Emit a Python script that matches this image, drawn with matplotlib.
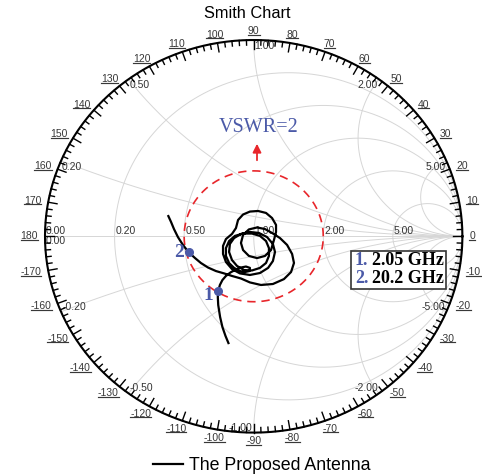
import numpy as np
import matplotlib
matplotlib.use('Agg')
import matplotlib.pyplot as plt
from matplotlib.lines import Line2D
from matplotlib.patches import Rectangle

plt.rcParams['font.family'] = ['Liberation Sans', 'DejaVu Sans']

gamma_re = [-0.121, -0.135, -0.150, -0.161, -0.170, -0.172, -0.170, -0.162, -0.150, -0.133, -0.111, -0.085,
            -0.061, -0.037, -0.018, -0.020, -0.042, -0.066,
            -0.094, -0.118, -0.133, -0.133, -0.118, -0.090, -0.051, -0.008, 0.030, 0.059, 0.073, 0.073,
            0.059, 0.030, -0.008, -0.046, -0.080, -0.104,
            -0.118, -0.114, -0.094, -0.061, -0.018, 0.025, 0.064, 0.092, 0.102, 0.092, 0.069, 0.030,
            -0.018, -0.066, -0.104, -0.133, -0.147, -0.147, -0.133, -0.104,
            -0.085, -0.075, -0.051, -0.018, 0.021, 0.059, 0.088, 0.107, 0.107,
            0.097, 0.083, 0.054, 0.016, -0.023, -0.051, -0.061, -0.051, -0.023, 0.016, 0.054, 0.088,
            0.126, 0.160, 0.184, 0.193, 0.179, 0.145, 0.092, 0.035, -0.018, -0.061, -0.104, -0.142,
            -0.181, -0.219, -0.253, -0.281, -0.311, -0.339, -0.363, -0.382, -0.396, -0.409]
gamma_im = [-0.544, -0.508, -0.462, -0.411, -0.350, -0.309, -0.279, -0.248, -0.223, -0.202, -0.184, -0.169,
            -0.159, -0.154, -0.161, -0.177, -0.182, -0.177,
            -0.161, -0.136, -0.100, -0.060, -0.024, 0.002, 0.014, 0.014, 0.002, -0.024, -0.060, -0.100,
            -0.136, -0.161, -0.174, -0.172, -0.151, -0.121,
            -0.080, -0.039, -0.009, 0.012, 0.022, 0.017, -0.004, -0.039, -0.080, -0.126, -0.161, -0.187,
            -0.197, -0.189, -0.167, -0.131, -0.090, -0.049, -0.014, 0.012,
            0.042, 0.083, 0.111, 0.126, 0.129, 0.119, 0.093, 0.058, 0.022,
            -0.019, -0.070, -0.100, -0.111, -0.100, -0.070, -0.034, 0.007, 0.035, 0.045, 0.037, 0.017,
            -0.009, -0.044, -0.090, -0.136, -0.182, -0.218, -0.243, -0.248, -0.235, -0.215, -0.202, -0.189,
            -0.177, -0.159, -0.136, -0.111, -0.082, -0.044, -0.004, 0.037, 0.073, 0.103]

marker_re = [-0.170, -0.311]
marker_im = [-0.279, -0.082]
marker_names = ['1', '2']
marker_freqs = ['2.05 GHz', '20.2 GHz']

r_values = [0.2, 0.5, 1.0, 2.0, 5.0]
x_values = [0.2, 0.5, 1.0, 2.0, 5.0]
angle_labels = list(range(-170, 190, 10))
vswr = 2.0

blue = '#4b5aa8'
red = '#e8262b'
grid = '#d6d6d6'
txt = '#333333'

W, H = 482, 476
fig = plt.figure(figsize=(W / 100, H / 100), dpi=100)
ax = fig.add_axes([0, 0, 1, 1])
cx, cy, rx, ry = 253.7, 236.3, 208.7, 196.3
ax.set_xlim(-cx / rx, (W - cx) / rx)
ax.set_ylim(-(H - cy) / ry, cy / ry)
ax.axis('off')


def px(x, y):
    # picture pixel -> chart coordinates (for annotation placement)
    return (x - cx) / rx, (cy - y) / ry


# grid: resistance circles and reactance arcs
phi = np.linspace(0, 2 * np.pi, 500)
for r in r_values:
    c, rad = r / (1 + r), 1 / (1 + r)
    ax.plot(c + rad * np.cos(phi), rad * np.sin(phi), color=grid, lw=0.7, zorder=1)
rr = np.tan(np.linspace(0, np.pi / 2, 500, endpoint=False))
for x in x_values:
    for s in (1, -1):
        g = (rr + 1j * s * x - 1) / (rr + 1j * s * x + 1)
        ax.plot(np.append(g.real, 1), np.append(g.imag, 0), color=grid, lw=0.7, zorder=1)
ax.plot([-1, 1], [0, 0], color=grid, lw=0.7, zorder=1)

# resistance labels on the real axis
for r in r_values:
    ax.annotate(f'{r:.2f}', ((r - 1) / (r + 1), 0), xytext=(1, 0), textcoords='offset pixels',
                ha='left', va='bottom', fontsize=7.5, color=txt, zorder=2)
ax.annotate('0.00', (-1, 0), xytext=(1, 0), textcoords='offset pixels', ha='left', va='bottom',
            fontsize=7.5, color=txt, zorder=2)
ax.annotate('0.00', (-1, 0), xytext=(1, 0), textcoords='offset pixels', ha='left', va='top',
            fontsize=7.5, color=txt, zorder=2)

# reactance labels at the rim
for x in x_values:
    for s in (1, -1):
        end = (x * x - 1 + 2j * s * x) / (x * x + 1)
        if s > 0:
            ha = 'left' if end.real <= 0.01 else 'right'
        else:
            ha = 'left' if end.real < -0.01 else 'right'
        dx = 1 if ha == 'left' else -1
        lab = f'{s * x:.2f}'
        ax.annotate(lab, (end.real, end.imag), xytext=(dx, -1 if s > 0 else 0), textcoords='offset pixels',
                    ha=ha, va='top' if s > 0 else 'bottom', fontsize=7.5, color=txt, zorder=2)

# outer rim with angle ticks
ax.plot(np.cos(phi), np.sin(phi), color='black', lw=1.5, zorder=3)
for a in range(-178, 181, 2):
    th = np.deg2rad(a)
    L = 9 if a % 10 == 0 else 5
    ax.plot([np.cos(th), np.cos(th) * (1 - L / rx)], [np.sin(th), np.sin(th) * (1 - L / ry)],
            color='black', lw=1.0, zorder=3)

angle_texts = []
for a in angle_labels:
    th = np.deg2rad(a)
    s = str(a)
    w = 5.8 * len(s.replace('-', '')) + (3.5 if a < 0 else 0)
    t = ax.annotate(s, (np.cos(th), np.sin(th)),
                    xytext=(np.cos(th) * (7 + w / 2), np.sin(th) * 8.5), textcoords='offset pixels',
                    ha='center', va='center', fontsize=7.5, color='#383838')
    angle_texts.append(t)

# VSWR = 2 circle
rho = (vswr - 1) / (vswr + 1)
ax.plot(rho * np.cos(phi), rho * np.sin(phi), color=red, lw=1.2, ls=(0, (5, 3.5)), zorder=4)
ax.annotate('', xy=px(257, 141), xytext=px(257, 163),
            arrowprops=dict(arrowstyle='-|>,head_width=0.25,head_length=0.5', color=red, lw=1.3))
ax.text(*px(259, 128), 'VSWR=2', ha='center', va='center', fontsize=14.5, color=blue,
        family='Liberation Serif')

# antenna trace
line, = ax.plot(gamma_re, gamma_im, color='black', lw=1.6, zorder=5, solid_joinstyle='round',
                label='The Proposed Antenna')
ax.plot(marker_re, marker_im, 'o', color=blue, ms=5.5, zorder=6)
for mr, mi, name, off in zip(marker_re, marker_im, marker_names, [(-9.5, -4), (-10, 0)]):
    ax.annotate(name, (mr, mi), xytext=off, textcoords='offset pixels', ha='center', va='center',
                fontsize=14, fontweight='bold', color=blue, family='Liberation Serif', zorder=6)

# marker frequency box
x0, y0 = px(350.7, 289.3)
x1, y1 = px(446, 250.7)
ax.add_patch(Rectangle((x0, y0), x1 - x0, y1 - y0, facecolor='white', edgecolor='#333333', lw=1.2, zorder=7))
for k, (name, f) in enumerate(zip(marker_names, marker_freqs)):
    yy = [260.5, 278.5][k]
    ax.text(*px(355, yy), name + '.', ha='left', va='center', fontsize=13, fontweight='bold',
            color=blue, family='Liberation Serif', zorder=8)
    ax.text(*px(371.5, yy), f, ha='left', va='center', fontsize=13, fontweight='bold',
            color='black', family='Liberation Serif', zorder=8)

fig.text(247 / W, 1 - 14 / H, 'Smith Chart', ha='center', va='center', fontsize=11.8)
fig.legend(handles=[line], loc='center', bbox_to_anchor=(261.5 / W, 1 - 466 / H), frameon=False,
           fontsize=12.8, handlelength=1.7, handletextpad=0.3)

# underline the angle labels
fig.canvas.draw()
renderer = fig.canvas.get_renderer()
for t in angle_texts:
    bb = t.get_window_extent(renderer)
    yl = bb.y0 + 1.3
    fig.add_artist(Line2D([bb.x0 / W, bb.x1 / W], [yl / H, yl / H], transform=fig.transFigure,
                          color='#383838', lw=0.85))

fig.savefig('out.png', dpi=100)
